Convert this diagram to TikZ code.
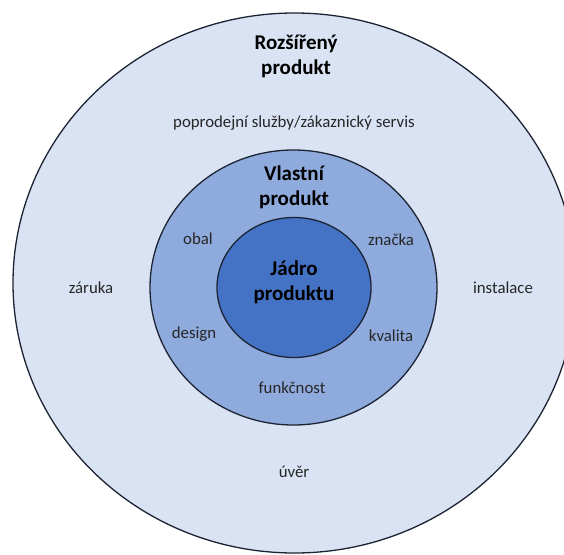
\documentclass[tikz,border=0pt]{standalone}
\usepackage{fontspec}
\setmainfont{Carlito}
\definecolor{ringouter}{HTML}{DAE3F3}
\definecolor{ringmid}{HTML}{8FAADC}
\definecolor{ringcore}{HTML}{4472C4}
\definecolor{rimline}{HTML}{1C2433}
\definecolor{labeltext}{HTML}{262626}
\begin{document}
\begin{tikzpicture}[x=1pt,y=-1pt,
  ring/.style={draw=rimline,line width=1.3pt},
  title/.style={font=\fontsize{21}{25}\selectfont\bfseries,text=black,align=center,inner sep=0pt,anchor=base},
  lbl/.style={font=\fontsize{16.8}{19}\selectfont,text=labeltext,inner sep=0pt,anchor=base}]
\useasboundingbox (0,0) rectangle (564,554);
\clip (0,0) rectangle (564,554);
\fill[white] (0,0) rectangle (564,554);
\draw[ring,fill=ringouter] (294.5,283) ellipse [x radius=281.5, y radius=270];
\draw[ring,fill=ringmid] (293.5,287.5) ellipse [x radius=143.5, y radius=137.5];
\draw[ring,fill=ringcore] (294,287.5) ellipse [x radius=77, y radius=70];
% titles (base anchor = baseline of the last line)
\node[title] (ext) at (296,74) {Rozšířený\\produkt};
\node[title] (own) at (294,205) {Vlastní\\produkt};
\node[title] (core) at (294,300) {Jádro\\produktu};
% outer ring labels
\node[lbl] (servis) at (294,127) {poprodejní služby/zákaznický servis};
\node[lbl] (zaruka) at (91,293) {záruka};
\node[lbl] (instalace) at (503,293) {instalace};
\node[lbl] (uver) at (294,477) {úvěr};
% middle ring labels
\node[lbl] (obal) at (198,244) {obal};
\node[lbl] (znacka) at (391,245) {značka};
\node[lbl] (design) at (194,338) {design};
\node[lbl] (kvalita) at (391,341) {kvalita};
\node[lbl] (funkcnost) at (292,393) {funkčnost};
\end{tikzpicture}
\end{document}
